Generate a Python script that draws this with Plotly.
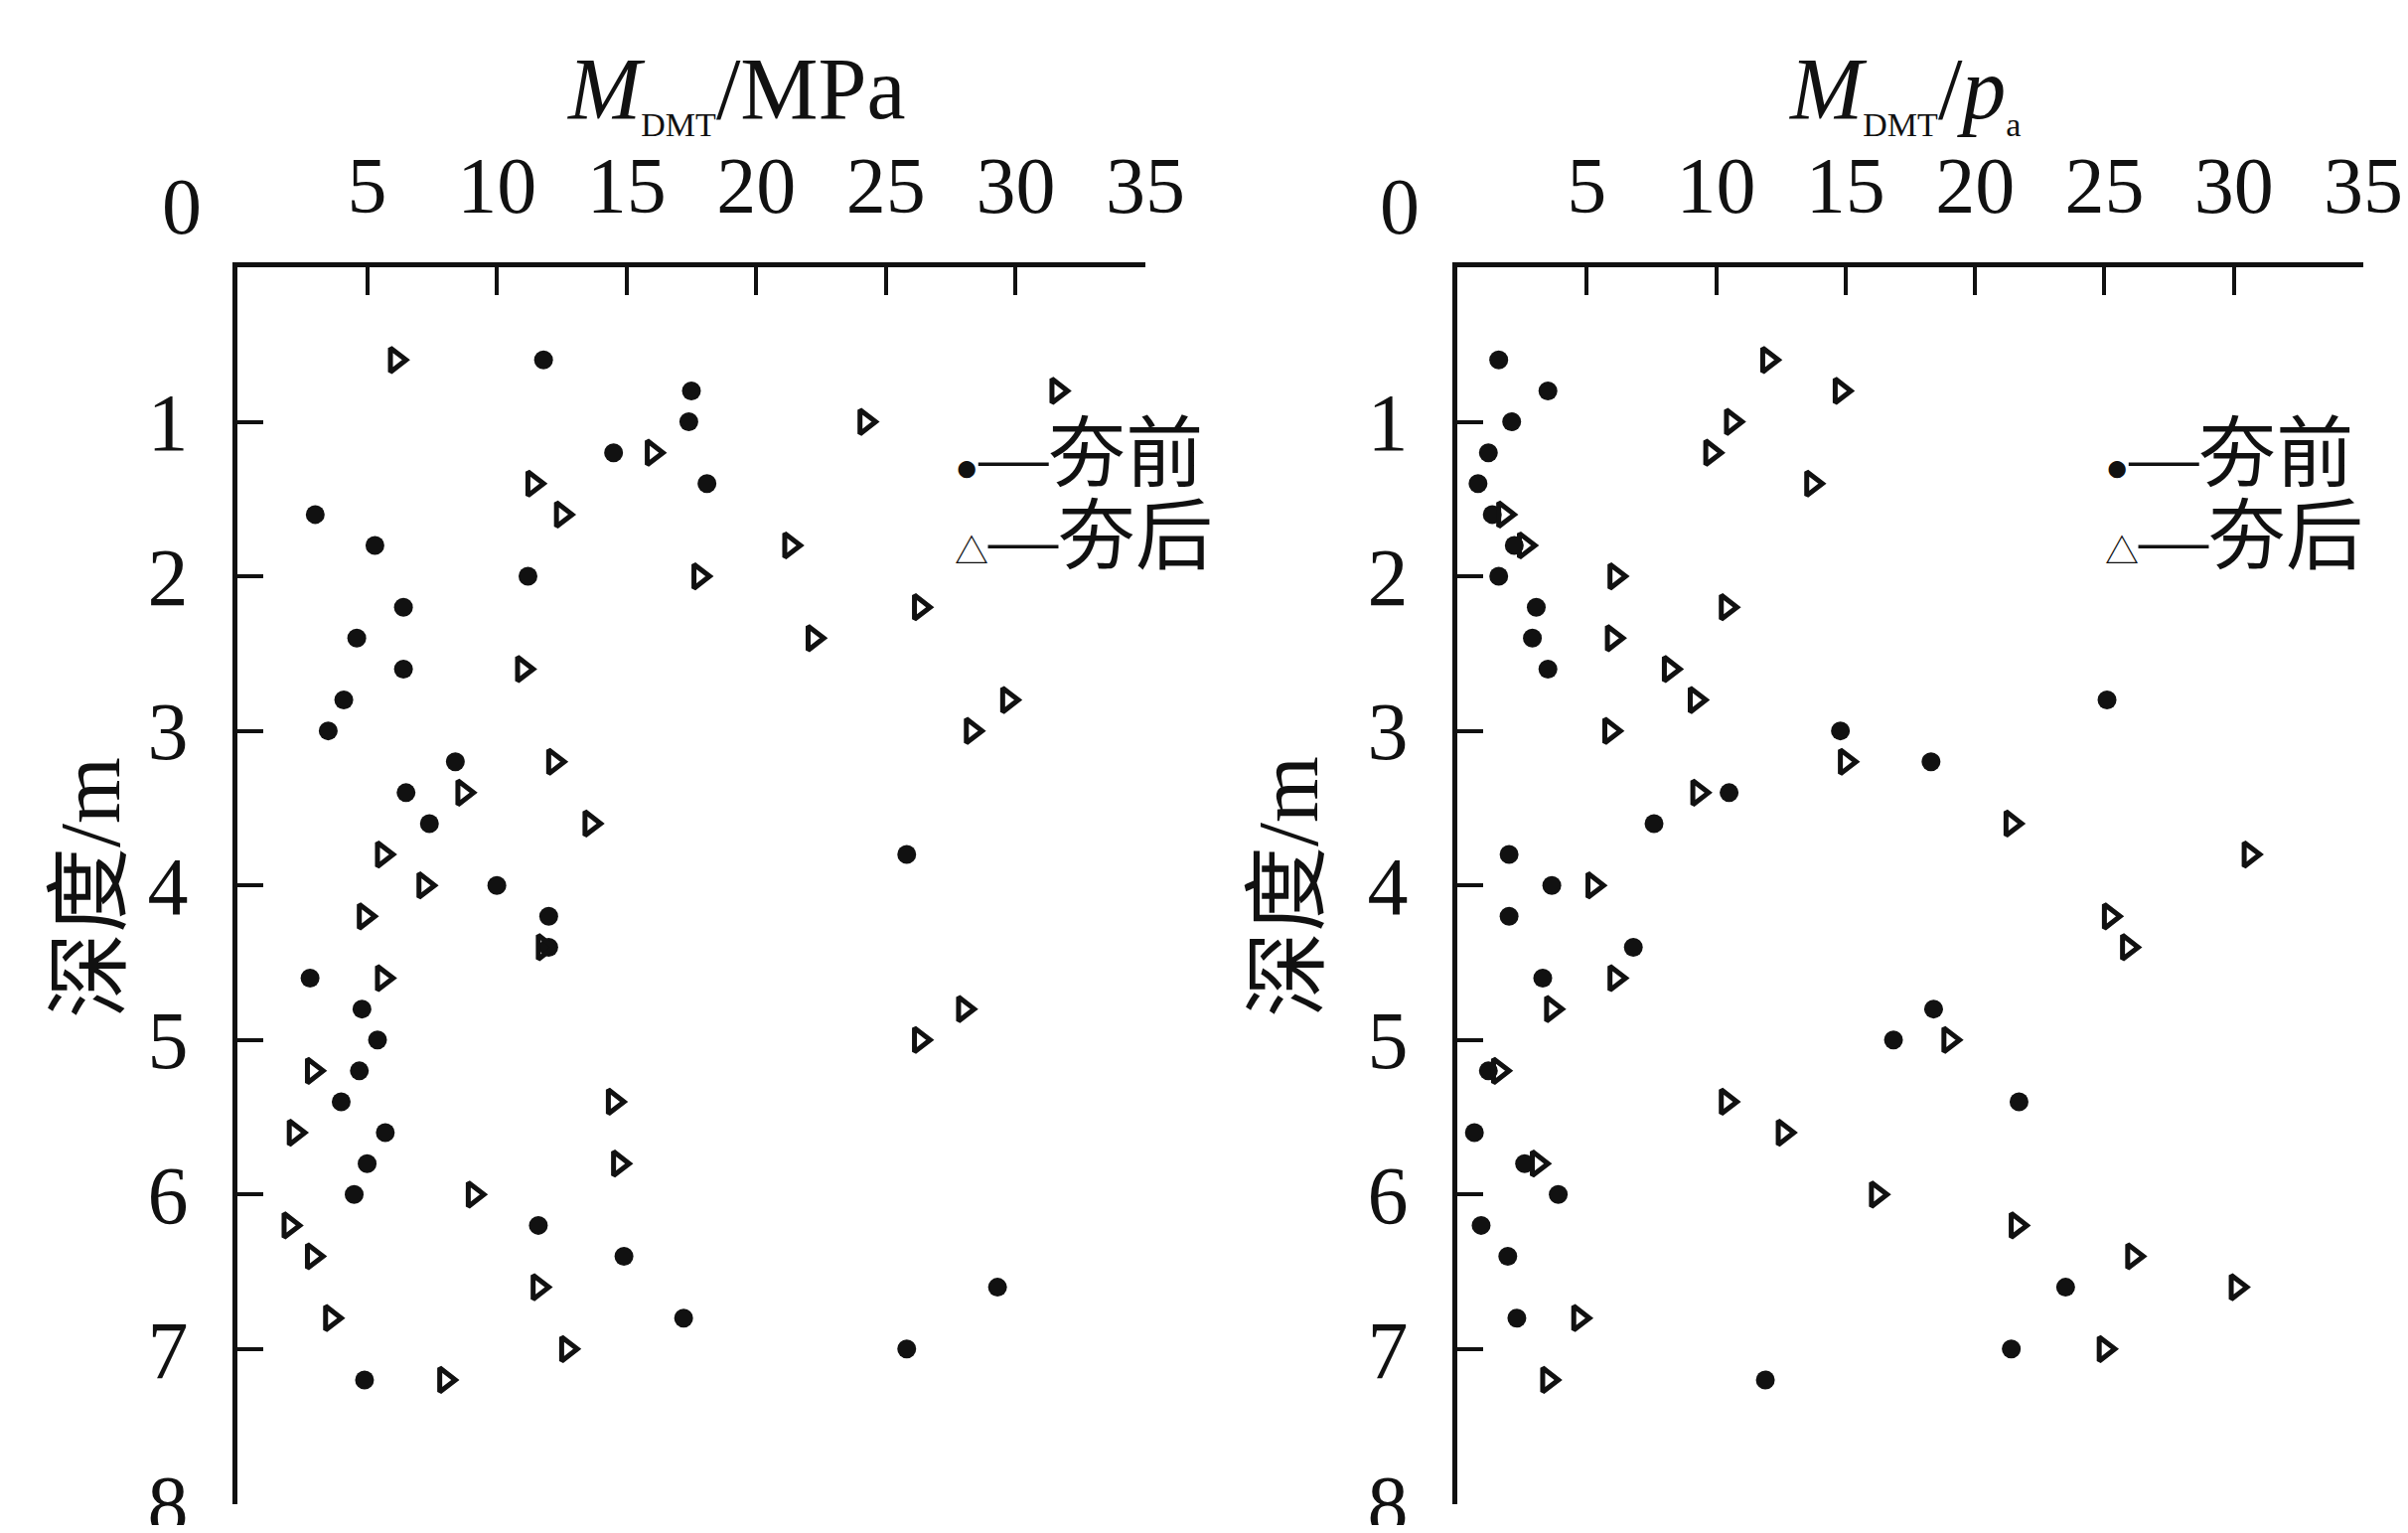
import plotly.graph_objects as go

# page body keeps a default margin, so the figure is drawn slightly smaller
PAGE_W, PAGE_H = 2424, 1543
OFF = 8
W, H = PAGE_W - 2 * OFF, PAGE_H - 2 * OFF

# ---------------- data ----------------
depth = [0.6, 0.8, 1.0, 1.2, 1.4, 1.6, 1.8, 2.0, 2.2, 2.4, 2.6, 2.8, 3.0, 3.2, 3.4, 3.6, 3.8,
         4.0, 4.2, 4.4, 4.6, 4.8, 5.0, 5.2, 5.4, 5.6, 5.8, 6.0, 6.2, 6.4, 6.6, 6.8, 7.0, 7.2]

# M_DMT / MPa
mdmt_before = [11.8, 17.5, 17.4, 14.5, 18.1, 3.0, 5.3, 11.2, 6.4, 4.6, 6.4, 4.1, 3.5, 8.4, 6.5, 7.4, 25.8,
               10.0, 12.0, 12.0, 2.8, 4.8, 5.4, 4.7, 4.0, 5.7, 5.0, 4.5, 11.6, 14.9, 29.3, 17.2, 25.8, 4.9]
mdmt_after = [6.1, 31.6, 24.2, 16.0, 11.4, 12.5, 21.3, 17.8, 26.3, 22.2, 11.0, 29.7, 28.3, 12.2, 8.7, 13.6, 5.6,
              7.2, 4.9, 11.8, 5.6, 28.0, 26.3, 2.9, 14.5, 2.2, 14.7, 9.1, 2.0, 2.9, 11.6, 3.6, 12.7, 8.0]

# M_DMT / p_a
ratio_before = [1.6, 3.5, 2.1, 1.2, 0.8, 1.35, 2.2, 1.6, 3.05, 2.9, 3.5, 25.1, 14.8, 18.3, 10.5, 7.6, 2.0,
                3.65, 2.0, 6.8, 3.3, 18.4, 16.85, 1.2, 21.7, 0.66, 2.6, 3.9, 0.92, 1.95, 23.5, 2.3, 21.4, 11.9]
ratio_after = [12.0, 14.8, 10.6, 9.8, 13.7, 1.8, 2.6, 6.1, 10.4, 6.0, 8.2, 9.2, 5.9, 15.0, 9.3, 21.4, 30.6,
               5.25, 25.2, 25.9, 6.1, 3.65, 19.0, 1.6, 10.4, 12.6, 3.1, 16.2, 21.6, 26.1, 30.1, 4.7, 25.0, 3.5]

x_ticks = [5, 10, 15, 20, 25, 30, 35]
x_ticktext = ["5", "10", "15", "20", "25", "30", "35"]
x_zero_label = "0"
y_ticks = [1, 2, 3, 4, 5, 6, 7, 8]
y_ticktext = ["1", "2", "3", "4", "5", "6", "7", "8"]

series_names = ["夯前", "夯后"]
left_title = "<i>M</i><sub><span style='font-size:34px'>DMT</span></sub>/MPa"
right_title = "<i>M</i><sub><span style='font-size:34px'>DMT</span></sub>/<i>p</i><sub><span style='font-size:34px'>a</span></sub>"
y_title = "深度/m"

# ---------------- styling ----------------
SERIF = "Liberation Serif, Noto Sans CJK SC, DejaVu Serif"
BLACK = "#111111"


def px(x):
    """screen pixel -> paper fraction"""
    return (x - OFF) / W


def py(y):
    return 1 - (y - OFF) / H


dot = dict(symbol="circle", size=19, color=BLACK, line=dict(width=0))
tri = dict(symbol="triangle-right-open", size=21, color=BLACK, line=dict(width=5, color=BLACK))

fig = go.Figure()
fig.add_trace(go.Scatter(x=mdmt_before, y=depth, mode="markers", marker=dot, name=series_names[0],
                         xaxis="x", yaxis="y", cliponaxis=False))
fig.add_trace(go.Scatter(x=mdmt_after, y=depth, mode="markers", marker=tri, name=series_names[1],
                         xaxis="x", yaxis="y", cliponaxis=False))
fig.add_trace(go.Scatter(x=ratio_before, y=depth, mode="markers", marker=dot, name=series_names[0],
                         xaxis="x2", yaxis="y2", cliponaxis=False))
fig.add_trace(go.Scatter(x=ratio_after, y=depth, mode="markers", marker=tri, name=series_names[1],
                         xaxis="x2", yaxis="y2", cliponaxis=False))

y_dom = [py(1514), py(269)]


def xaxis(domain, anchor):
    return dict(domain=domain, anchor=anchor, range=[0, 35], side="top", automargin=False,
                showline=True, linewidth=5, linecolor=BLACK, mirror=False,
                ticks="inside", ticklen=28, tickwidth=4, tickcolor=BLACK,
                tickvals=x_ticks, ticktext=x_ticktext,
                tickfont=dict(family=SERIF, size=80, color=BLACK),
                ticklabelstandoff=18, ticklabeloverflow="allow",
                showgrid=False, zeroline=False, fixedrange=True)


def yaxis(anchor):
    return dict(domain=y_dom, anchor=anchor, range=[8.004, 0], automargin=False,
                showline=True, linewidth=5, linecolor=BLACK, mirror=False,
                ticks="inside", ticklen=26, tickwidth=4, tickcolor=BLACK,
                tickvals=y_ticks, ticktext=y_ticktext,
                tickfont=dict(family=SERIF, size=82, color=BLACK),
                ticklabelstandoff=28, ticklabeloverflow="allow",
                showgrid=False, zeroline=False, fixedrange=True)


annotations = []
# the "0" labels sit left of the axis corner
for xc in (183, 1409):
    annotations.append(dict(text=x_zero_label, xref="paper", x=px(xc), yref="paper", y=py(208),
                            xanchor="center", yanchor="middle", showarrow=False,
                            font=dict(family=SERIF, size=80, color=BLACK)))
# axis titles
annotations.append(dict(text=left_title, xref="paper", x=px(741), yref="paper", y=py(93),
                        xanchor="center", yanchor="middle", showarrow=False,
                        font=dict(family=SERIF, size=88, color=BLACK)))
annotations.append(dict(text=right_title, xref="paper", x=px(1917), yref="paper", y=py(93),
                        xanchor="center", yanchor="middle", showarrow=False,
                        font=dict(family=SERIF, size=88, color=BLACK)))
for xc in (91, 1297):
    annotations.append(dict(text=y_title, xref="paper", x=px(xc), yref="paper", y=py(893),
                            xanchor="center", yanchor="middle", showarrow=False, textangle=-90,
                            font=dict(family=SERIF, size=86, color=BLACK)))
# legends
legend_marks = ["<span style='font-size:40px'>●</span>", "<span style='font-size:34px'>△</span>"]
for x0 in (959, 2117):
    for i, yc in enumerate((458, 540)):
        annotations.append(dict(text=legend_marks[i] + "<span style='font-size:70px'>—</span>" + series_names[i],
                                xref="paper", x=px(x0), yref="paper", y=py(yc),
                                xanchor="left", yanchor="middle", showarrow=False,
                                font=dict(family=SERIF, size=78, color=BLACK)))

fig.update_layout(
    width=W, height=H,
    margin=dict(l=0, r=0, t=0, b=0, autoexpand=False),
    paper_bgcolor="white", plot_bgcolor="white",
    showlegend=False,
    xaxis=xaxis([px(239), px(1153)], "y"),
    yaxis=yaxis("x"),
    xaxis2=xaxis([px(1467), px(2379)], "y2"),
    yaxis2=yaxis("x2"),
    annotations=annotations,
)

fig.write_html("out.html")
